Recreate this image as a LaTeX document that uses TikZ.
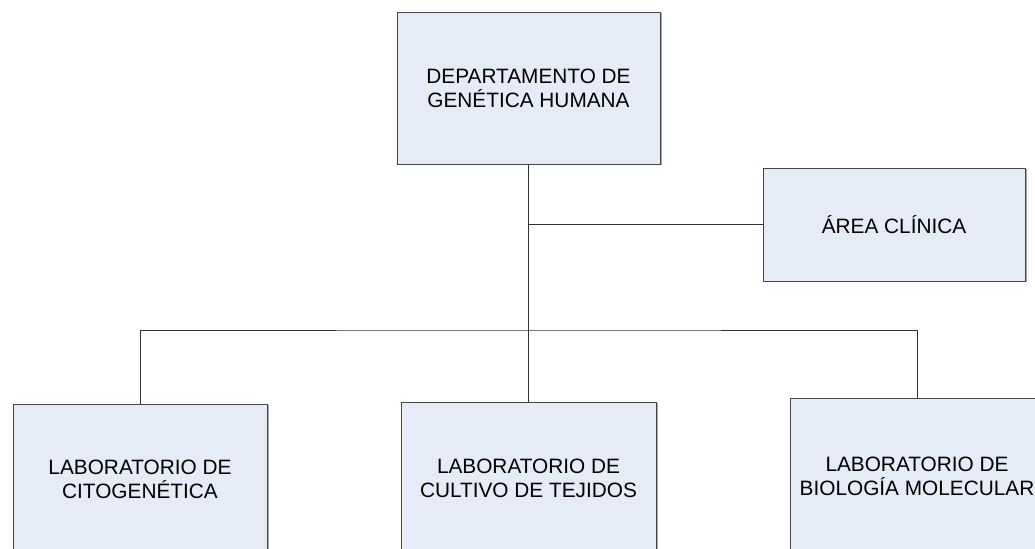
\documentclass[tikz,border=0pt]{standalone}
\usepackage{fontspec}
\setmainfont{Liberation Sans}
\usetikzlibrary{shadows}

\definecolor{boxfill}{RGB}{230,236,247}
\definecolor{boxline}{RGB}{70,70,70}

\tikzstyle{orgbox} = [draw=boxline, fill=boxfill, line width=0.9bp,
    rectangle, align=center, inner sep=0pt,
    font=\fontsize{20.8bp}{24bp}\selectfont,
    drop shadow={shadow xshift=1.5bp, shadow yshift=-1.5bp, opacity=0.35, fill=black}]
\tikzstyle{orgline} = [draw=black!80, line width=0.9bp]

\begin{document}
\begin{tikzpicture}[x=1bp, y=-1bp]
\useasboundingbox (0,0) rectangle (1035,549);
\node [orgbox, minimum width=263bp, minimum height=152bp] (dept) at (528.5,88)
    {DEPARTAMENTO DE\\GENÉTICA HUMANA};
\node [orgbox, minimum width=262bp, minimum height=113bp] (area) at (894,224.5)
    {ÁREA CLÍNICA};
\node [orgbox, minimum width=254bp, minimum height=150bp] (citog) at (140,479)
    {LABORATORIO DE\\CITOGENÉTICA};
\node [orgbox, minimum width=255bp, minimum height=152bp] (cultivo) at (528.5,478)
    {LABORATORIO DE\\CULTIVO DE TEJIDOS};
\node [orgbox, minimum width=254bp, minimum height=156bp] (molec) at (917,476)
    {LABORATORIO DE\\BIOLOGÍA MOLECULAR};
% connectors
\coordinate (bar) at (528.5,330);
\draw [orgline] (dept.south) -- (cultivo.north);
\draw [orgline] (area.west) -- (area.west -| dept.south);
\draw [orgline] (citog.north) |- (bar) -| (molec.north);
\end{tikzpicture}
\end{document}
